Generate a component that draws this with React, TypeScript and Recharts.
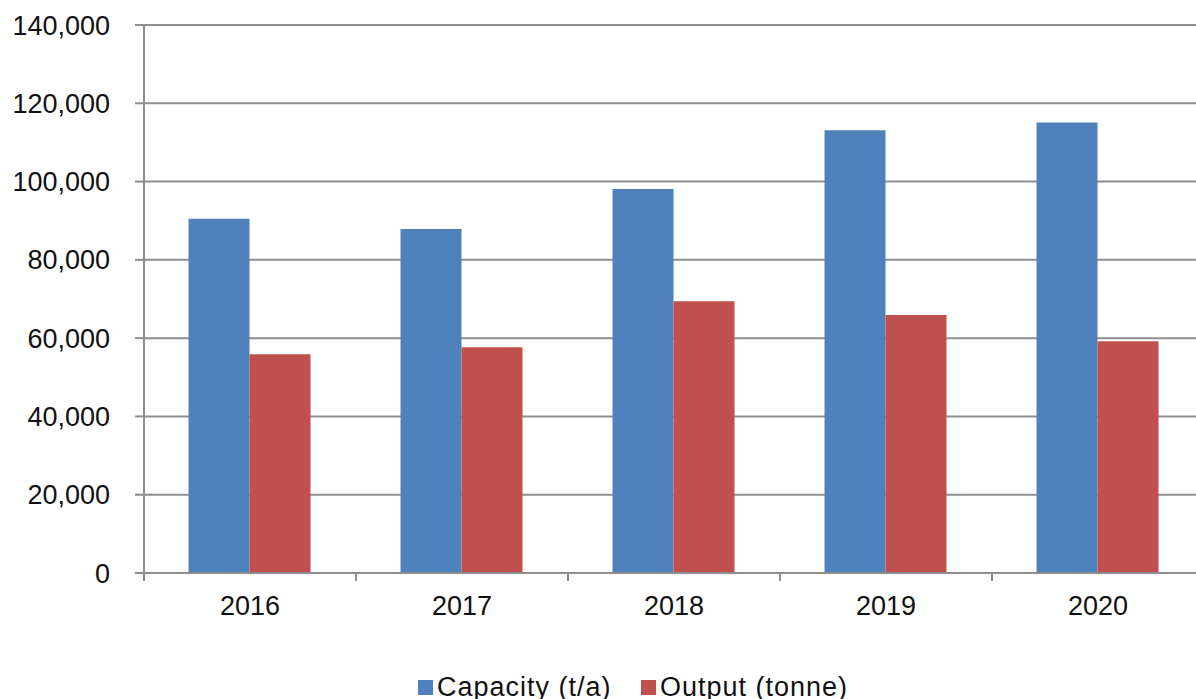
import { BarChart, Bar, XAxis, YAxis, CartesianGrid, Legend } from "recharts";

const years = ["2016", "2017", "2018", "2019", "2020"];
const capacity = [90500, 87900, 98100, 113100, 115100];
const output = [55900, 57700, 69400, 65900, 59200];
const yTicks = [0, 20000, 40000, 60000, 80000, 100000, 120000, 140000];

const data = years.map((year, i) => ({
  year,
  capacity: capacity[i],
  output: output[i],
}));

const W = 1212;
const H = 705;
const LEFT = 144;
const RIGHT = 8;
const BAND = (W - LEFT - RIGHT) / years.length;
const GRAY = "#8e8e8e";
const FONT = "'Liberation Sans', Arial, sans-serif";

function YearTick(props: any) {
  const { x, y, payload } = props;
  return (
    <g>
      <line x1={x - BAND / 2} x2={x - BAND / 2} y1={y} y2={y + 8} stroke={GRAY} strokeWidth={2} />
      <text
        x={x}
        y={y + 33}
        textAnchor="middle"
        dominantBaseline="central"
        fontSize={27}
        fontFamily={FONT}
        fill="#111"
      >
        {payload.value}
      </text>
    </g>
  );
}

function LegendBox() {
  const items = [
    { label: "Capacity (t/a)", color: "#4F81BD", w: 223 },
    { label: "Output (tonne)", color: "#C0504D", w: 260 },
  ];
  return (
    <div style={{ display: "flex", alignItems: "center", height: 36, paddingLeft: 418, fontFamily: FONT, fontSize: 27, letterSpacing: 1, color: "#111" }}>
      {items.map((it) => (
        <div key={it.label} style={{ display: "flex", alignItems: "center", width: it.w }}>
          <span style={{ width: 15, height: 15, background: it.color, marginRight: 4, display: "inline-block" }} />
          <span>{it.label}</span>
        </div>
      ))}
    </div>
  );
}

export default function App() {
  return (
    <div style={{ position: "absolute", left: 0, top: 0, width: 1196, height: 699, overflow: "hidden", background: "#fff" }}>
      <BarChart
        width={W}
        height={H}
        data={data}
        margin={{ top: 25, right: RIGHT, bottom: 0, left: 0 }}
        barCategoryGap="21%"
        barGap={0}
      >
        <CartesianGrid vertical={false} stroke={GRAY} strokeWidth={2} />
        <XAxis
          dataKey="year"
          height={96}
          axisLine={{ stroke: GRAY, strokeWidth: 2 }}
          tickLine={false}
          tickSize={0}
          tickMargin={0}
          tick={<YearTick />}
          interval={0}
        />
        <YAxis
          width={LEFT}
          domain={[0, 140000]}
          ticks={yTicks}
          interval={0}
          axisLine={{ stroke: GRAY, strokeWidth: 2 }}
          tickLine={{ stroke: GRAY, strokeWidth: 2 }}
          tickSize={9}
          tickMargin={25}
          tickFormatter={(v: number) => v.toLocaleString("en-US")}
          tick={{ fontSize: 27, fontFamily: FONT, fill: "#111" }}
        />
        <Legend verticalAlign="bottom" height={36} content={<LegendBox />} />
        <Bar dataKey="capacity" name="Capacity (t/a)" fill="#4F81BD" isAnimationActive={false} />
        <Bar dataKey="output" name="Output (tonne)" fill="#C0504D" isAnimationActive={false} />
      </BarChart>
    </div>
  );
}
